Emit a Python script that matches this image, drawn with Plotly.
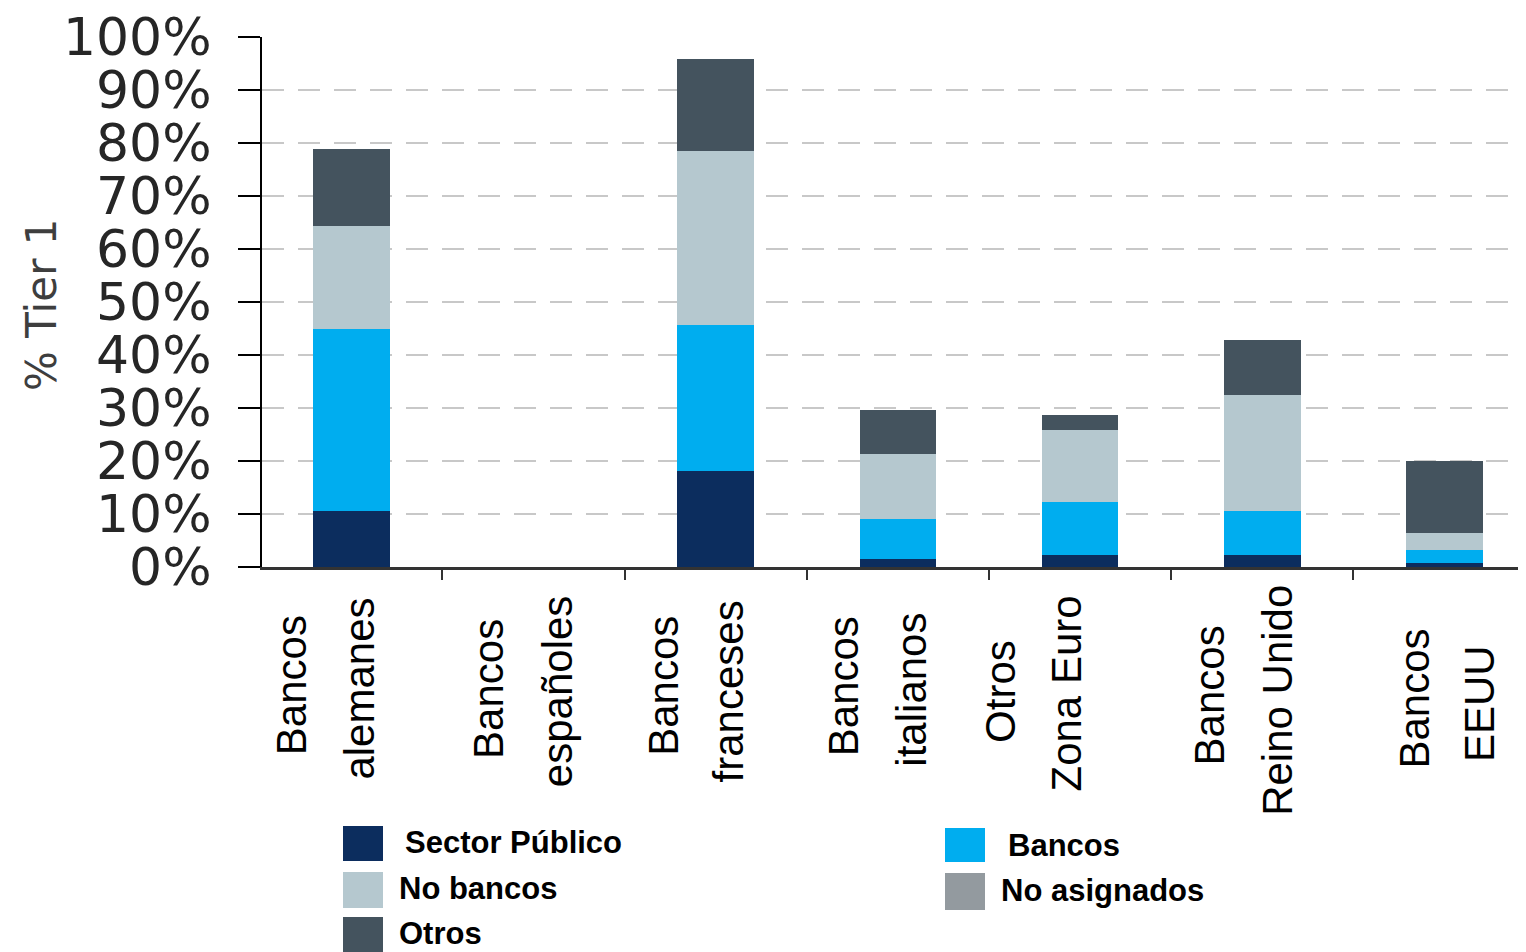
import plotly.graph_objects as go

# categorias (dos lineas por etiqueta)
cat_line1 = ["Bancos", "Bancos", "Bancos", "Bancos", "Otros", "Bancos", "Bancos"]
cat_line2 = ["alemanes", "españoles", "franceses", "italianos", "Zona Euro", "Reino Unido", "EEUU"]
categories = [f"{a} {b}" for a, b in zip(cat_line1, cat_line2)]

# % Tier 1 por contraparte
sector_publico = [10.6, 0, 18.1, 1.5, 2.3, 2.3, 0.7]
bancos = [34.3, 0, 27.6, 7.5, 10.0, 8.3, 2.5]
no_bancos = [19.4, 0, 32.8, 12.3, 13.5, 21.9, 3.3]
no_asignados = [0, 0, 0, 0, 0, 0, 0]
otros = [14.6, 0, 17.3, 8.3, 2.9, 10.3, 13.5]

y_ticks = [0, 10, 20, 30, 40, 50, 60, 70, 80, 90, 100]

series = [
    ("Sector Público", sector_publico, "#0c2d5e"),
    ("Bancos", bancos, "#00adef"),
    ("No bancos", no_bancos, "#b5c8cf"),
    ("No asignados", no_asignados, "#939a9f"),
    ("Otros", otros, "#44535e"),
]

# the page has an 8px body margin, so the figure is 8px smaller
OFF = 8
W, H = 1526 - OFF, 952 - OFF
L, R, T, B = 262 - OFF, 5, 37 - OFF, 952 - 567
PW, PH = W - L - R, H - T - B


def px_x(px):
    return (px - OFF - L) / PW


def px_y(py):
    return (H - B - (py - OFF)) / PH


fig = go.Figure()
for name, vals, color in series:
    fig.add_trace(go.Bar(
        x=categories, y=vals, name=name,
        marker=dict(color=color, line=dict(width=0)),
        showlegend=False,
    ))

# etiquetas de categoria giradas
shift1 = [-0.33, -0.25, -0.29, -0.30, -0.44, -0.29, -0.17]
shift2 = [0.04, 0.13, 0.07, 0.07, -0.08, 0.08, 0.19]
ymid1 = [685, 689, 686, 686, 691, 695, 699]
ymid2 = [689, 692, 691, 690, 694, 700, 704]
annotations = []
for i in range(len(categories)):
    for txt, sh, ym in ((cat_line1[i], shift1[i], ymid1[i]), (cat_line2[i], shift2[i], ymid2[i])):
        annotations.append(dict(
            x=i + sh, xref="x", y=px_y(ym), yref="paper",
            text=txt, textangle=-90, showarrow=False,
            xanchor="center", yanchor="middle",
            font=dict(family="Liberation Sans, Arial", size=42, color="#000000"),
        ))

# titulo del eje y
annotations.append(dict(
    x=px_x(41), xref="paper", y=px_y(305), yref="paper",
    text="% Tier 1", textangle=-90, showarrow=False,
    xanchor="center", yanchor="middle",
    font=dict(family="DejaVu Sans", size=42, color="#3e3e3e"),
))

# leyenda manual (cuadros grandes)
legend_pos = {
    "Sector Público": (343, 826, 861, 403, 842),
    "Bancos": (945, 828, 862, 1006, 845),
    "No bancos": (343, 872, 908, 397, 888),
    "No asignados": (945, 873, 910, 999, 891),
    "Otros": (343, 917, 952, 397, 933),
}
shapes = []
for name, vals, color in series:
    x0, y0, y1, tx, ty = legend_pos[name]
    shapes.append(dict(
        type="rect", xref="paper", yref="paper",
        x0=px_x(x0), x1=px_x(x0 + 40), y0=px_y(y1), y1=px_y(y0),
        fillcolor=color, line=dict(width=0),
    ))
    annotations.append(dict(
        x=px_x(tx), xref="paper", y=px_y(ty), yref="paper",
        text=f"<b>{name}</b>", showarrow=False,
        xanchor="left", yanchor="middle",
        font=dict(family="Liberation Sans, Arial", size=31, color="#000000"),
    ))

fig.update_layout(
    barmode="stack",
    bargap=0.58,
    width=W, height=H,
    margin=dict(l=L, r=R, t=T, b=B),
    plot_bgcolor="white",
    paper_bgcolor="white",
    annotations=annotations,
    shapes=shapes,
)

fig.update_yaxes(
    range=[0, 100],
    automargin=False,
    tickvals=y_ticks,
    ticktext=[f"{v}%" for v in y_ticks],
    tickfont=dict(family="DejaVu Sans", size=52, color="#262626"),
    ticks="outside", ticklen=22, tickwidth=2, tickcolor="#000000",
    ticklabelstandoff=16,
    ticklabeloverflow="allow",
    showline=True, linecolor="#000000", linewidth=2,
    showgrid=True, gridcolor="#c8c8c8", gridwidth=2, griddash="22px,14px",
    zeroline=False,
)
fig.update_xaxes(
    range=[-0.49, 6.42],
    automargin=False,
    showticklabels=False,
    tickson="boundaries",
    ticks="outside", ticklen=10, tickwidth=2, tickcolor="#333333",
    showline=True, linecolor="#333333", linewidth=3,
    showgrid=False,
)

fig.write_html("out.html")
